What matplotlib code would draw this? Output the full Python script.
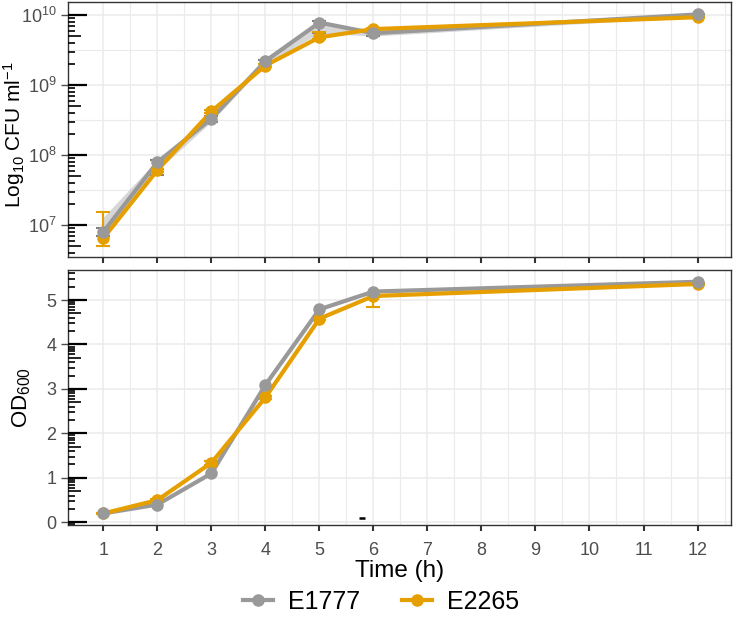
import numpy as np
import matplotlib
matplotlib.use("Agg")
import matplotlib.pyplot as plt
from matplotlib.ticker import FixedLocator, LogFormatterSciNotation, NullFormatter
from matplotlib.lines import Line2D

plt.rcParams["font.family"] = ["Liberation Sans", "DejaVu Sans"]
plt.rcParams["mathtext.default"] = "regular"

# ---------------------------------------------------------------- data
time_h = [1, 2, 3, 4, 5, 6, 12]
strains = ["E1777", "E2265"]

# CFU / ml
cfu_e1777 = [8.0e6, 7.9e7, 3.3e8, 2.2e9, 7.8e9, 5.5e9, 1.02e10]
cfu_e2265 = [6.5e6, 6.1e7, 4.2e8, 1.9e9, 4.8e9, 6.3e9, 9.3e9]
cfu_e1777_lo = [7.0e6, 5.2e7, 3.0e8, 2.0e9, 5.6e9, 5.0e9, 9.6e9]
cfu_e1777_hi = [9.0e6, 8.5e7, 3.6e8, 2.3e9, 8.2e9, 6.0e9, 1.05e10]
cfu_e2265_lo = [5.0e6, 5.8e7, 4.0e8, 1.8e9, 4.6e9, 6.1e9, 9.0e9]
cfu_e2265_hi = [1.55e7, 6.4e7, 4.4e8, 2.0e9, 5.8e9, 6.5e9, 9.6e9]
# shaded band around E1777
band_lo = [7.0e6, 6.0e7, 3.0e8, 2.0e9, 5.5e9, 5.0e9, 9.5e9]
band_hi = [1.3e7, 8.6e7, 3.6e8, 2.3e9, 8.0e9, 6.0e9, 1.05e10]

# OD600
od_e1777 = [0.20, 0.40, 1.10, 3.09, 4.79, 5.19, 5.41]
od_e2265 = [0.20, 0.50, 1.34, 2.81, 4.58, 5.09, 5.36]
od_e2265_lo = [0.18, 0.47, 1.30, 2.78, 4.55, 4.85, 5.33]
od_e2265_hi = [0.22, 0.53, 1.38, 2.84, 4.61, 5.12, 5.39]
stray_x = [5.78]
stray_y = [0.10]

GRAY = "#999999"
ORANGE = "#E69F00"
DARK = "#333333"
GRID = "#EBEBEB"
LW, MS = 3.0, 8

W, H = 733, 627
fig = plt.figure(figsize=(W / 100, H / 100), dpi=100)
ax_top = fig.add_axes([68.3 / W, 1 - 257 / H, (731 - 68.3) / W, 255 / H])
ax_bot = fig.add_axes([68.3 / W, 1 - 525 / H, (731 - 68.3) / W, 255 / H])

XLIM = (0.35, 12.62)


def style(ax):
    ax.set_xlim(*XLIM)
    ax.xaxis.set_major_locator(FixedLocator(range(1, 13)))
    ax.xaxis.set_minor_locator(FixedLocator(np.arange(1.5, 12.6, 1.0)))
    ax.grid(which="major", color=GRID, lw=1.1, zorder=0)
    ax.grid(which="minor", color=GRID, lw=0.8, zorder=0)
    ax.set_axisbelow(True)
    for sp in ax.spines.values():
        sp.set_color(DARK)
        sp.set_linewidth(1.0)
    ax.tick_params(which="major", color=DARK, length=4, width=1.0,
                   labelcolor="#4D4D4D", labelsize=13)
    ax.tick_params(which="minor", length=0)
    ax.tick_params(axis="x", which="major", width=1.5, pad=8)


def logticks(ax, lo, hi, px_w):
    """annotation_logticks style marks on left side (y in log10 units)."""
    tr = ax.get_yaxis_transform()
    short, mid, long_ = 6.3 / px_w, 12.7 / px_w, 19.0 / px_w
    for k in range(int(np.floor(lo)) - 1, int(np.ceil(hi)) + 1):
        for m in range(1, 10):
            v = k + np.log10(m)
            if v < lo or v > hi:
                continue
            if m == 1:
                ln, lw = long_, 1.6
            elif m == 5:
                ln, lw = mid, 1.2
            else:
                ln, lw = short, 1.2
            yv = 10 ** v if ax.get_yscale() == "log" else v
            ax.plot([0, ln], [yv, yv], transform=tr, color="black", lw=lw,
                    solid_capstyle="butt", clip_on=False, zorder=5)


# ---------------------------------------------------------------- top
style(ax_top)
ax_top.set_yscale("log")
ax_top.set_ylim(10 ** 6.543, 10 ** 10.186)
ax_top.yaxis.set_major_locator(FixedLocator([1e7, 1e8, 1e9, 1e10]))
ax_top.yaxis.set_major_formatter(LogFormatterSciNotation())
ax_top.yaxis.set_minor_locator(FixedLocator([10 ** (k + 0.5) for k in range(6, 10)]))
ax_top.yaxis.set_minor_formatter(NullFormatter())
ax_top.tick_params(axis="x", labelbottom=False)
ax_top.tick_params(axis="y", which="major", length=5, color="#4D4D4D")

ax_top.fill_between(time_h, band_lo, band_hi, color="#BDBDBD", alpha=0.6,
                    lw=0, zorder=1)
ax_top.errorbar(time_h, cfu_e1777,
                yerr=[np.subtract(cfu_e1777, cfu_e1777_lo), np.subtract(cfu_e1777_hi, cfu_e1777)],
                fmt="none", ecolor="#808080", elinewidth=1.5, capsize=5, capthick=1.5, zorder=2)
ax_top.errorbar(time_h, cfu_e2265,
                yerr=[np.subtract(cfu_e2265, cfu_e2265_lo), np.subtract(cfu_e2265_hi, cfu_e2265)],
                fmt="none", ecolor=ORANGE, elinewidth=1.5, capsize=5, capthick=1.5, zorder=2)
ax_top.plot(time_h, cfu_e1777, color=GRAY, lw=LW, zorder=3)
ax_top.plot(time_h, cfu_e2265, color=ORANGE, lw=LW, zorder=3)
ax_top.plot(time_h, cfu_e2265, "o", color=ORANGE, ms=MS, zorder=4)
ax_top.plot(time_h, cfu_e1777, "o", color=GRAY, ms=MS, zorder=4)
ax_top.set_ylabel("Log$_{10}$ CFU ml$^{-1}$", fontsize=15, color="black")
ax_top.yaxis.set_label_coords(-0.062, 0.48)
logticks(ax_top, 6.543, 10.186, 662.7)

# ---------------------------------------------------------------- bottom
style(ax_bot)
ax_bot.set_ylim(-0.06, 5.675)
ax_bot.yaxis.set_major_locator(FixedLocator([0, 1, 2, 3, 4, 5]))
ax_bot.yaxis.set_minor_locator(FixedLocator([]))
ax_bot.tick_params(axis="y", which="major", length=5, color="#4D4D4D")

ax_bot.errorbar(time_h, od_e2265,
                yerr=[np.subtract(od_e2265, od_e2265_lo), np.subtract(od_e2265_hi, od_e2265)],
                fmt="none", ecolor=ORANGE, elinewidth=1.5, capsize=5, capthick=1.5, zorder=2)
ax_bot.plot(time_h, od_e1777, color=GRAY, lw=LW, zorder=3)
ax_bot.plot(time_h, od_e2265, color=ORANGE, lw=LW, zorder=3)
ax_bot.plot(time_h, od_e2265, "o", color=ORANGE, ms=MS, zorder=4)
ax_bot.plot(time_h, od_e1777, "o", color=GRAY, ms=MS, zorder=4)
ax_bot.plot(stray_x, stray_y, "_", color="black", ms=5, mew=1.8, zorder=4)
ax_bot.set_ylabel("OD$_{600}$", fontsize=16, color="black")
ax_bot.yaxis.set_label_coords(-0.053, 0.5)
ax_bot.set_xlabel("Time (h)", fontsize=17.5, color="black", labelpad=1)
logticks(ax_bot, -0.06, 5.675, 662.7)

# ---------------------------------------------------------------- legend
handles = [Line2D([], [], color=c, lw=LW, marker="o", ms=MS)
           for c in (GRAY, ORANGE)]
fig.legend(handles, strains, loc="center", bbox_to_anchor=(0.52, 1 - 602 / H),
           ncol=2, frameon=False, fontsize=18, handlelength=1.2,
           columnspacing=1.7, handletextpad=0.6)

fig.savefig("out.png", dpi=100)
